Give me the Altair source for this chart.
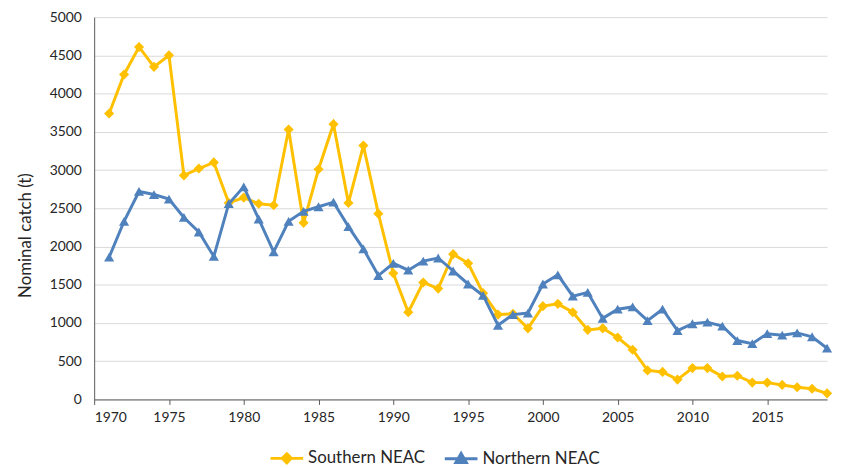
import altair as alt
import pandas as pd

years = list(range(1971, 2020))
southern = [3740, 4250, 4610, 4350, 4500, 2930, 3020, 3100, 2570, 2640,
            2560, 2540, 3530, 2310, 3010, 3600, 2570, 3320, 2430, 1650,
            1140, 1530, 1450, 1900, 1780, 1390, 1110, 1120, 930, 1220,
            1250, 1140, 910, 930, 810, 650, 380, 360, 260, 410,
            410, 300, 310, 220, 220, 190, 160, 140, 80]
northern = [1860, 2330, 2720, 2680, 2620, 2380, 2190, 1870, 2560, 2780,
            2360, 1930, 2330, 2460, 2520, 2580, 2260, 1970, 1620, 1780,
            1690, 1810, 1850, 1680, 1510, 1360, 970, 1110, 1130, 1510,
            1630, 1350, 1400, 1060, 1180, 1210, 1030, 1180, 900, 990,
            1010, 960, 770, 730, 860, 840, 870, 820, 670]
series_names = ["Southern NEAC", "Northern NEAC"]
series_colors = ["#FFC000", "#4F81BD"]
marker_shapes = ["diamond", "triangle-up"]
legend_shapes = ["M-3.3,0H3.3M0,-0.9L0.9,0L0,0.9L-0.9,0Z",
                 "M-3.3,0H3.3M0,-1.05L1.05,0.75H-1.05Z"]
x_ticks = list(range(1970, 2016, 5))
y_ticks = list(range(0, 5001, 500))

rows = []
for i, yr in enumerate(years):
    rows.append({"year": yr, "series": series_names[0], "catch": southern[i]})
    rows.append({"year": yr, "series": series_names[1], "catch": northern[i]})
df = pd.DataFrame(rows)

FONT = "Lato"
TXT = "#262626"

x = alt.X("year:Q",
          scale=alt.Scale(domain=[1970, 2019], nice=False, zero=False),
          axis=alt.Axis(values=x_ticks, format="d", title=None, grid=False,
                        ticks=True, tickSize=5, tickColor="#595959",
                        labelPadding=6, labelFontSize=14, labelFont=FONT,
                        labelColor=TXT, domainColor="#595959", domainWidth=1))
y = alt.Y("catch:Q",
          scale=alt.Scale(domain=[0, 5000], nice=False),
          axis=alt.Axis(values=y_ticks, format="d", title="Nominal catch (t)", ticks=False,
                        grid=True, gridColor="#d9d9d9", gridWidth=1,
                        labelPadding=13, labelFontSize=14, labelFont=FONT,
                        labelColor=TXT, domainColor="#595959", domainWidth=1,
                        titleFont=FONT, titleFontSize=17, titleFontWeight="normal",
                        titleColor=TXT, titleAngle=270, titleAlign="center",
                        titleBaseline="middle", titleX=-69, titleY=220))
color = alt.Color("series:N", scale=alt.Scale(domain=series_names, range=series_colors), legend=None)
shape = alt.Shape("series:N", scale=alt.Scale(domain=series_names, range=marker_shapes), legend=None)

base = alt.Chart(df).encode(x=x, y=y, color=color)
layers = []
for name in series_names:
    sub = base.transform_filter(alt.datum.series == name)
    layers.append(sub.mark_line(strokeWidth=3))
    layers.append(sub.mark_point(filled=True, opacity=1, size=105).encode(shape=shape))

leg = alt.Legend(title=None, orient="none", legendX=186, legendY=437,
                 direction="horizontal", labelFont=FONT, labelFontSize=17,
                 labelColor=TXT, symbolSize=100, symbolStrokeWidth=3,
                 labelOffset=13, columnPadding=13)
legend_layer = alt.Chart(df).transform_filter("false").mark_point(
    filled=True, opacity=1).encode(
    x=x, y=y,
    fill=alt.Fill("series:N", scale=alt.Scale(domain=series_names, range=series_colors), legend=leg),
    stroke=alt.Stroke("series:N", scale=alt.Scale(domain=series_names, range=series_colors), legend=leg),
    shape=alt.Shape("series:N", scale=alt.Scale(domain=series_names, range=legend_shapes), legend=leg),
)

chart = alt.layer(*layers, legend_layer).resolve_scale(
    shape="independent", fill="independent", stroke="independent"
).properties(
    width=740, height=386,
    autosize=alt.AutoSizeParams(type="none"),
    padding={"left": 87, "top": 7, "right": 7, "bottom": 67},
).configure_view(stroke=None)

chart.save("out.html", embed_options={"renderer": "svg", "actions": False})
